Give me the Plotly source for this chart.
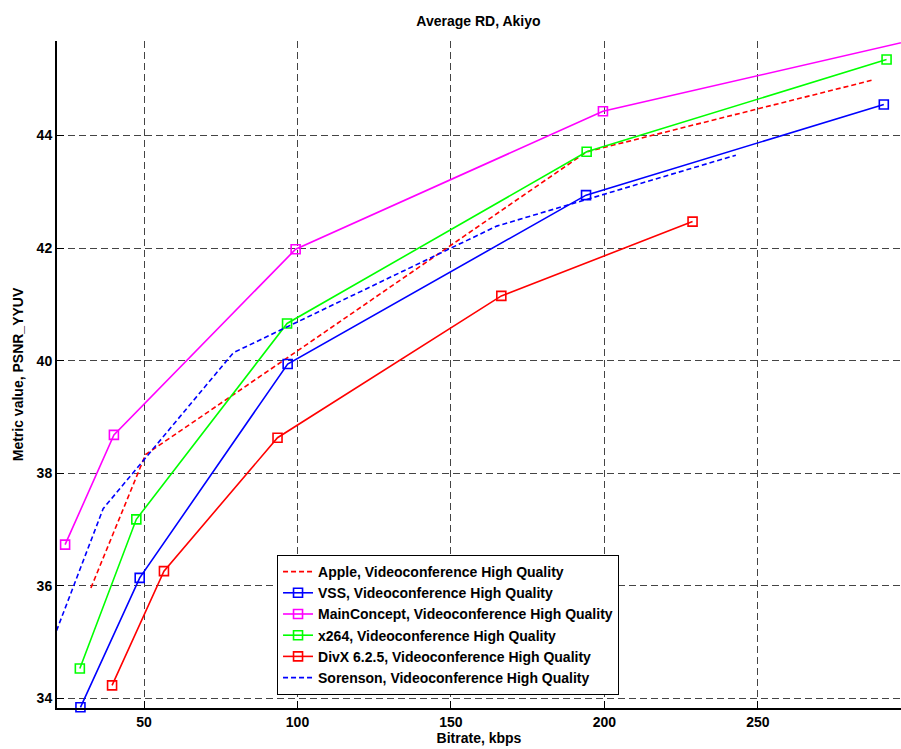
import plotly.graph_objects as go

# ---- data ----
apple_x = [32.7, 48.5, 50.5, 97.5, 194.2, 287.0]
apple_y = [35.96, 38.05, 38.33, 40.08, 43.71, 44.98]

vss_x = [29.3, 48.6, 96.8, 194.0, 291.0]
vss_y = [33.84, 36.14, 39.94, 42.94, 44.55]

mc_x = [24.3, 40.2, 99.4, 199.5, 300.0]
mc_y = [36.73, 38.68, 41.98, 44.43, 45.69]

x264_x = [29.1, 47.5, 96.6, 194.2, 291.9]
x264_y = [34.53, 37.18, 40.66, 43.71, 45.35]

divx_x = [39.6, 56.5, 93.5, 166.4, 228.7]
divx_y = [34.23, 36.26, 38.63, 41.15, 42.47]

sor_x = [21.5, 36.7, 79.1, 164.9, 242.8]
sor_y = [35.2, 37.37, 40.14, 42.39, 43.65]

x_ticks = [50, 100, 150, 200, 250]
y_ticks = [34, 36, 38, 40, 42, 44]

FONT = "Liberation Sans, Arial, sans-serif"

fig = go.Figure()

def add(name, xs, ys, color, dashed, markers):
    fig.add_trace(go.Scatter(
        x=xs, y=ys, name=name,
        mode="lines+markers" if markers else "lines",
        line=dict(color=color, width=1.6, dash="5px,3px" if dashed else "solid"),
        marker=dict(symbol="square-open", size=9, color=color, line=dict(width=1.6, color=color)),
        cliponaxis=False,
    ))

add("Apple, Videoconference High Quality", apple_x, apple_y, "#FF0000", True, False)
add("VSS, Videoconference High Quality", vss_x, vss_y, "#0000FF", False, True)
add("MainConcept, Videoconference High Quality", mc_x, mc_y, "#FF00FF", False, True)
add("x264, Videoconference High Quality", x264_x, x264_y, "#00FF00", False, True)
add("DivX 6.2.5, Videoconference High Quality", divx_x, divx_y, "#FF0000", False, True)
add("Sorenson, Videoconference High Quality", sor_x, sor_y, "#0000FF", True, False)

fig.update_layout(
    width=901, height=749,
    margin=dict(l=57, r=0, t=41, b=41),
    paper_bgcolor="white", plot_bgcolor="white",
    font=dict(family=FONT, size=14, color="black"),
    title=dict(text="Average RD, Akiyo", x=0.531, xanchor="center", y=0.972, yanchor="middle",
               font=dict(family=FONT, size=14, weight="bold", color="black")),
    showlegend=True,
    legend=dict(x=0.2607, y=0.2294, xanchor="left", yanchor="top",
                bgcolor="white", bordercolor="black", borderwidth=1,
                font=dict(family=FONT, size=14, weight="bold", color="black"),
                tracegroupgap=0, itemwidth=30),
)

fig.update_xaxes(
    range=[21.66, 296.6], tickvals=x_ticks, ticktext=[str(v) for v in x_ticks],
    showline=True, linecolor="black", linewidth=2, mirror=False,
    ticks="inside", ticklen=7, tickcolor="black", tickwidth=1,
    showgrid=True, gridcolor="#444444", gridwidth=1, griddash="7px,4px",
    zeroline=False,
    tickfont=dict(family=FONT, size=14, weight="bold"),
    title=dict(text="Bitrate, kbps", standoff=2, font=dict(family=FONT, size=14, weight="bold")),
)
fig.update_yaxes(
    range=[33.828, 45.679], tickvals=y_ticks, ticktext=[str(v) for v in y_ticks],
    showline=True, linecolor="black", linewidth=2, mirror=False,
    ticks="inside", ticklen=7, tickcolor="black", tickwidth=1,
    showgrid=True, gridcolor="#444444", gridwidth=1, griddash="7px,4px",
    zeroline=False,
    tickfont=dict(family=FONT, size=14, weight="bold"),
    title=dict(text="Metric value, PSNR_YYUV", standoff=10, font=dict(family=FONT, size=14, weight="bold")),
)

fig.write_html("out.html", config={"displayModeBar": False},
               post_script="document.body.style.margin='0';document.body.style.overflow='hidden';")
